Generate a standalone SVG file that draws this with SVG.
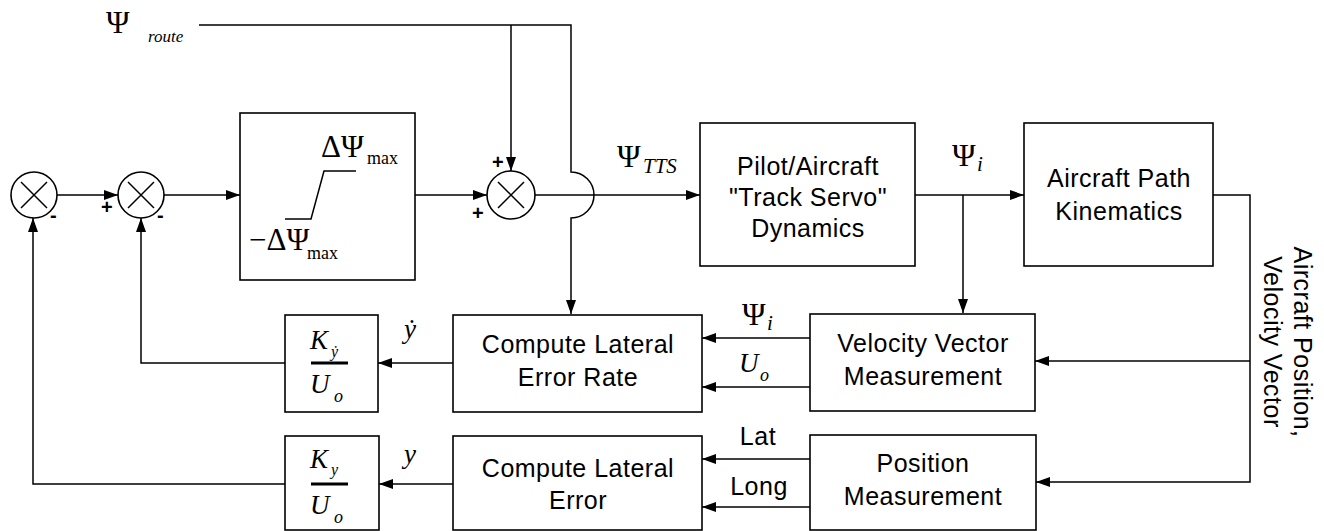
<svg xmlns="http://www.w3.org/2000/svg" width="1324" height="531" viewBox="0 0 1324 531">
<style>
.box{fill:none;stroke:#000;stroke-width:1.6}
.ln{fill:none;stroke:#000;stroke-width:1.5}
.t{font-family:"Liberation Sans",Arial,sans-serif;font-size:25px;letter-spacing:0.5px;text-anchor:middle;fill:#000}
.m{font-family:"Liberation Serif","DejaVu Serif","Times New Roman",serif;fill:#000}
.i{font-style:italic}
.s{font-family:"Liberation Sans",Arial,sans-serif;font-size:20px;font-weight:bold;fill:#000}
</style>
<defs>
<marker id="ah" markerUnits="userSpaceOnUse" markerWidth="15" markerHeight="11" refX="14" refY="5" orient="auto">
<path d="M0,0 L14,5 L0,10 z" fill="#000"/>
</marker>
</defs>
<rect width="1324" height="531" fill="#fff"/>

<g id="connectors">
<path class="ln" d="M57,195 H118" marker-end="url(#ah)"/>
<path class="ln" d="M164,195 H240" marker-end="url(#ah)"/>
<path class="ln" d="M415,195 H487" marker-end="url(#ah)"/>
<path class="ln" d="M199,25 H571 V172 A23,23 0 0 1 571,218 V314" marker-end="url(#ah)"/>
<path class="ln" d="M511,25 V171" marker-end="url(#ah)"/>
<path class="ln" d="M535,195 H700" marker-end="url(#ah)"/>
<path class="ln" d="M915,195 H1024" marker-end="url(#ah)"/>
<path class="ln" d="M963,195 V313" marker-end="url(#ah)"/>
<path class="ln" d="M1213,195 H1250 V482 H1036" marker-end="url(#ah)"/>
<path class="ln" d="M1250,361 H1035" marker-end="url(#ah)"/>
<path class="ln" d="M810,338 H702" marker-end="url(#ah)"/>
<path class="ln" d="M810,387 H702" marker-end="url(#ah)"/>
<path class="ln" d="M810,459 H702" marker-end="url(#ah)"/>
<path class="ln" d="M810,507 H702" marker-end="url(#ah)"/>
<path class="ln" d="M453,363 H378" marker-end="url(#ah)"/>
<path class="ln" d="M453,484 H379" marker-end="url(#ah)"/>
<path class="ln" d="M285,363 H141 V218" marker-end="url(#ah)"/>
<path class="ln" d="M285,484 H33 V218" marker-end="url(#ah)"/>
</g>

<g id="labels">
<text class="m" x="106" y="33" font-size="32">Ψ</text>
<text class="m i" x="148" y="42" font-size="17">route</text>
<text class="m" x="617" y="167" font-size="32">Ψ</text>
<text class="m i" x="643" y="173" font-size="21">TTS</text>
<text class="m" x="952" y="166" font-size="32">Ψ</text>
<text class="m i" x="977" y="171" font-size="21">i</text>
<text class="m" x="742" y="325" font-size="32">Ψ</text>
<text class="m i" x="767" y="330" font-size="21">i</text>
<text class="m i" x="739" y="372" font-size="27">U</text>
<text class="m i" x="760" y="381" font-size="18">o</text>
<text class="t" x="758" y="445">Lat</text>
<text class="t" x="759" y="495">Long</text>
<text class="m i" x="404" y="338" font-size="27">ẏ</text>
<text class="m i" x="404" y="463" font-size="27">y</text>
<text class="s" x="101" y="214">+</text>
<text class="s" x="50" y="222">-</text>
<text class="s" x="157" y="222">-</text>
<text class="s" x="492" y="169">+</text>
<text class="s" x="472" y="220">+</text>
<g transform="translate(1294,342) rotate(90)">
<text class="t" x="0" y="0">Aircraft Position,</text>
<text class="t" x="0" y="30">Velocity Vector</text>
</g>
</g>

<g id="sum1">
<circle class="box" cx="34" cy="195" r="23"/>
<path class="ln" d="M21,182 L47,208 M47,182 L21,208"/>
</g>
<g id="sum2">
<circle class="box" cx="141" cy="195" r="23"/>
<path class="ln" d="M128,182 L154,208 M154,182 L128,208"/>
</g>
<g id="sum3">
<circle class="box" cx="511" cy="195" r="24"/>
<path class="ln" d="M498,182 L524,208 M524,182 L498,208"/>
</g>

<g id="limiter">
<rect class="box" x="240" y="113" width="175" height="167"/>
<path class="ln" d="M285,219 H311 L324,171 H356"/>
<text class="m" x="321" y="157" font-size="31">ΔΨ</text>
<text class="m" x="367" y="164" font-size="18">max</text>
<text class="m" x="249" y="250" font-size="31">−ΔΨ</text>
<text class="m" x="307" y="259" font-size="18">max</text>
</g>

<g id="pilot">
<rect class="box" x="700" y="123" width="215" height="143"/>
<text class="t" x="808" y="175">Pilot/Aircraft</text>
<text class="t" x="808" y="206">"Track Servo"</text>
<text class="t" x="808" y="237">Dynamics</text>
</g>

<g id="kinematics">
<rect class="box" x="1024" y="123" width="189" height="143"/>
<text class="t" x="1119" y="187">Aircraft Path</text>
<text class="t" x="1119" y="220">Kinematics</text>
</g>

<g id="rate">
<rect class="box" x="453" y="315" width="249" height="97"/>
<text class="t" x="578" y="353">Compute Lateral</text>
<text class="t" x="578" y="386">Error Rate</text>
</g>

<g id="velocity">
<rect class="box" x="810" y="314" width="225" height="97"/>
<text class="t" x="923" y="352">Velocity Vector</text>
<text class="t" x="923" y="385">Measurement</text>
</g>

<g id="error">
<rect class="box" x="453" y="436" width="249" height="94"/>
<text class="t" x="578" y="477">Compute Lateral</text>
<text class="t" x="578" y="509">Error</text>
</g>

<g id="position">
<rect class="box" x="810" y="435" width="226" height="95"/>
<text class="t" x="923" y="472">Position</text>
<text class="t" x="923" y="505">Measurement</text>
</g>

<g id="gainRate">
<rect class="box" x="285" y="315" width="93" height="97"/>
<text class="m i" x="310" y="349" font-size="27">K</text>
<text class="m i" x="331" y="357" font-size="16">ẏ</text>
<line x1="311" y1="363" x2="348" y2="363" stroke="#000" stroke-width="3"/>
<text class="m i" x="310" y="393" font-size="27">U</text>
<text class="m i" x="334" y="402" font-size="18">o</text>
</g>

<g id="gainPos">
<rect class="box" x="285" y="436" width="94" height="94"/>
<text class="m i" x="310" y="468" font-size="27">K</text>
<text class="m i" x="331" y="475" font-size="16">y</text>
<line x1="311" y1="484" x2="348" y2="484" stroke="#000" stroke-width="3"/>
<text class="m i" x="310" y="514" font-size="27">U</text>
<text class="m i" x="334" y="523" font-size="18">o</text>
</g>
</svg>
